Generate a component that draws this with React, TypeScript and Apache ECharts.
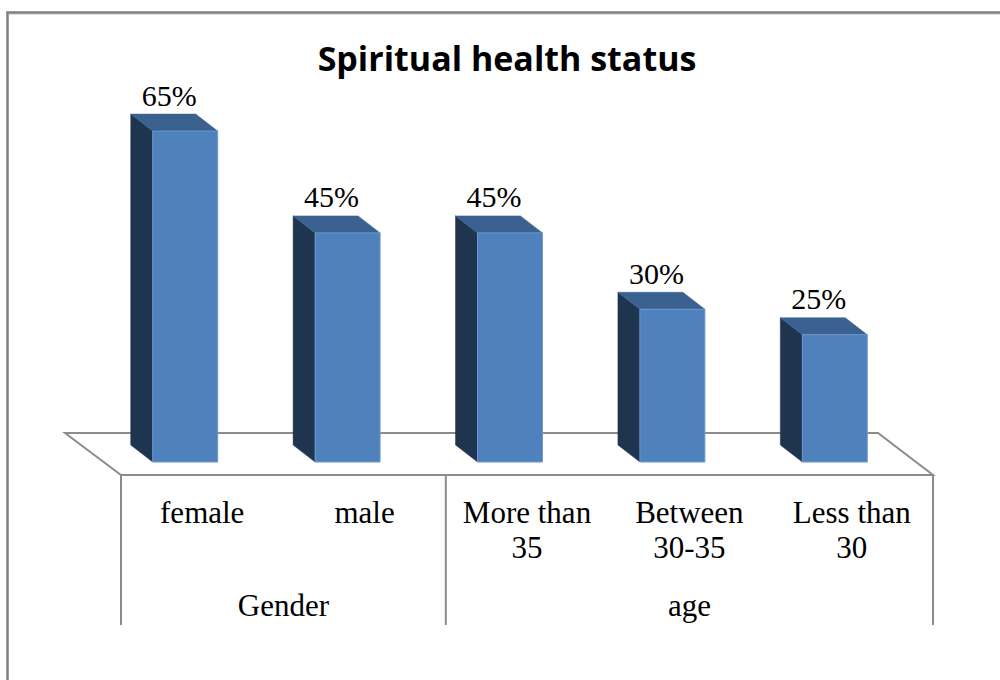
import React, { useEffect, useRef } from "react";
import * as echarts from "echarts";

const categories = ["female", "male", "More than\n35", "Between\n30-35", "Less than\n30"];
const values = [65, 45, 45, 30, 25];
const valueLabels = ["65%", "45%", "45%", "30%", "25%"];
const groupNames = ["Gender", "age"];
const groupSizes = [2, 3];
const titleText = "Spiritual health status";

const SERIF = "Liberation Serif";

export default function App() {
  const ref = useRef<HTMLDivElement>(null);

  useEffect(() => {
    document.body.style.margin = "0";
    const chart = echarts.init(ref.current!, null, { renderer: "svg" });

    const floorLeft = 121;
    const floorRight = 933;
    const bandW = (floorRight - floorLeft) / categories.length;
    const groupTexts: any[] = [];
    const dividers: any[] = [];
    const bounds = [0];
    let start = 0;
    groupSizes.forEach((n, gi) => {
      const x0 = floorLeft + start * bandW;
      const x1 = floorLeft + (start + n) * bandW;
      groupTexts.push({
        type: "text",
        x: (x0 + x1) / 2,
        y: 605,
        z: 5,
        style: {
          text: groupNames[gi],
          fill: "#000",
          fontFamily: SERIF,
          fontSize: 31,
          textAlign: "center",
          textVerticalAlign: "middle",
        },
      });
      start += n;
      bounds.push(start);
    });
    bounds.forEach((k) => {
      const x = floorLeft + k * bandW;
      dividers.push({
        type: "line",
        z: 1,
        shape: { x1: x, y1: 475, x2: x, y2: 625 },
        style: { stroke: "#8c8c8c", lineWidth: 2 },
      });
    });

    const option: any = {
      animation: false,
      grid: { left: floorLeft - 17, right: 1000 - floorRight + 17, top: 105.6, bottom: 218, containLabel: false },
      xAxis: {
        type: "category",
        data: categories,
        axisLine: { show: false },
        axisTick: { show: false },
        splitLine: { show: false },
        axisLabel: { show: false },
      },
      yAxis: { type: "value", min: 0, max: 70, show: false },
      graphic: [
        {
          type: "polyline",
          z: 0,
          shape: { points: [[7.5, 700], [7.5, 12.5], [1010, 12.5]] },
          style: { stroke: "#7f7f7f", lineWidth: 2.5, fill: null },
        },
        {
          type: "line",
          z: 0,
          shape: { x1: 9, y1: 14.5, x2: 1010, y2: 14.5 },
          style: { stroke: "#d9d9d9", lineWidth: 1 },
        },
        {
          type: "polygon",
          z: 1,
          shape: { points: [[65, 433], [878, 433], [933, 475], [121, 475]] },
          style: { stroke: "#8c8c8c", lineWidth: 2, fill: "#ffffff" },
        },
        ...dividers,
        ...categories.map((c, i) => ({
          type: "text",
          x: floorLeft + bandW * (i + 0.5),
          y: 495,
          z: 5,
          style: {
            text: c,
            fill: "#000",
            fontFamily: SERIF,
            fontSize: 31,
            lineHeight: 35,
            textAlign: "center",
            textVerticalAlign: "top",
          },
        })),
        ...groupTexts,
        {
          type: "text",
          x: 507,
          y: 58,
          z: 5,
          style: {
            text: titleText,
            fill: "#000",
            fontFamily: "Open Sans",
            fontWeight: "bold",
            fontSize: 34,
            textAlign: "center",
            textVerticalAlign: "middle",
          },
        },
      ],
      series: [
        {
          type: "custom",
          z: 10,
          data: values.map((v, i) => [i, v]),
          renderItem: (params: any, api: any) => {
            const i = api.value(0);
            const v = api.value(1);
            const base = api.coord([i, 0]);
            const top = api.coord([i, v]);
            const band = api.size([1, 0])[0];
            const w = band * 0.4;
            const cx = base[0];
            const xl = cx - w / 2;
            const xr = cx + w / 2;
            const y0 = base[1];
            const y1 = top[1];
            const dx = -22;
            const dy = -17;
            return {
              type: "group",
              children: [
                {
                  type: "polygon",
                  shape: { points: [[xl, y1], [xl + dx, y1 + dy], [xl + dx, y0 + dy], [xl, y0]] },
                  style: { fill: "#1f344f", stroke: "#1f344f", lineWidth: 0.5 },
                },
                {
                  type: "polygon",
                  shape: { points: [[xl, y1], [xr, y1], [xr + dx, y1 + dy], [xl + dx, y1 + dy]] },
                  style: { fill: "#3b6190", stroke: "#3b6190", lineWidth: 0.5 },
                },
                {
                  type: "rect",
                  shape: { x: xl, y: y1, width: w, height: y0 - y1 },
                  style: { fill: "#4f81bd", stroke: "#6f98cc", lineWidth: 1 },
                },
                {
                  type: "text",
                  x: cx - 16,
                  y: y1 - 36,
                  style: {
                    text: valueLabels[params.dataIndex],
                    fill: "#000",
                    fontFamily: SERIF,
                    fontSize: 30,
                    textAlign: "center",
                    textVerticalAlign: "middle",
                  },
                },
              ],
            };
          },
        },
      ],
    };
    chart.setOption(option);
    return () => chart.dispose();
  }, []);

  return <div ref={ref} style={{ width: 1000, height: 680 }} />;
}
